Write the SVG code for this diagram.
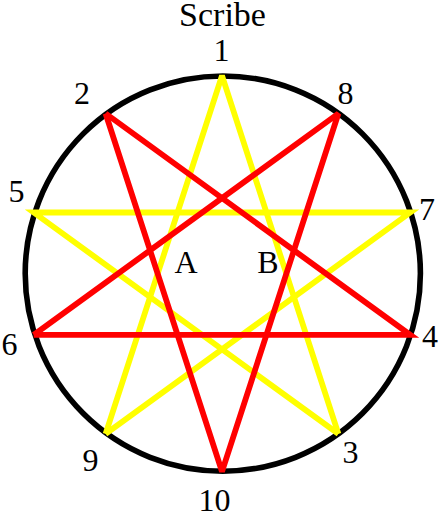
<svg xmlns="http://www.w3.org/2000/svg" width="441" height="513" viewBox="0 0 441 513">
<style>
.lbl{font-family:"Liberation Serif","Times New Roman",serif;font-size:32px;fill:#000;text-anchor:middle}
.y{fill:none;stroke:#ffff00;stroke-width:5.8}
.r{fill:none;stroke:#ff0000;stroke-width:5.8}
</style>
<rect width="441" height="513" fill="#fff"/>
<g id="ring"><circle cx="222.8" cy="273.6" r="197.6" fill="none" stroke="#000" stroke-width="5.6"/></g>
<g id="connectors">
<path class="y" stroke-linejoin="miter" d="M105.6 433.9 L410.3 212.5 L33.7 212.5 L338.4 433.9"/>
<path class="y" stroke-linejoin="bevel" d="M338.4 433.9 L222 75.7 L105.6 433.9"/>
<path class="r" stroke-linejoin="miter" d="M33.7 334.9 L410.3 334.9 L105.6 113.5"/>
<path class="r" stroke-linejoin="bevel" d="M105.6 113.5 L222 471.7 L338.4 113.5 L33.7 334.9"/>
</g>
<g id="title"><text class="lbl" x="222.5" y="25.5" style="font-size:34px">Scribe</text></g>
<g id="n1"><text class="lbl" x="221.5" y="61">1</text></g>
<g id="n2"><text class="lbl" x="82" y="104">2</text></g>
<g id="n3"><text class="lbl" x="350.5" y="463">3</text></g>
<g id="n4"><text class="lbl" x="430" y="346.5">4</text></g>
<g id="n5"><text class="lbl" x="16.5" y="202">5</text></g>
<g id="n6"><text class="lbl" x="9.5" y="355">6</text></g>
<g id="n7"><text class="lbl" x="427" y="220">7</text></g>
<g id="n8"><text class="lbl" x="345.5" y="104">8</text></g>
<g id="n9"><text class="lbl" x="90.5" y="471">9</text></g>
<g id="n10"><text class="lbl" x="214.5" y="510.5">10</text></g>
<g id="nA"><text class="lbl" x="186" y="273">A</text></g>
<g id="nB"><text class="lbl" x="268" y="273">B</text></g>
</svg>
